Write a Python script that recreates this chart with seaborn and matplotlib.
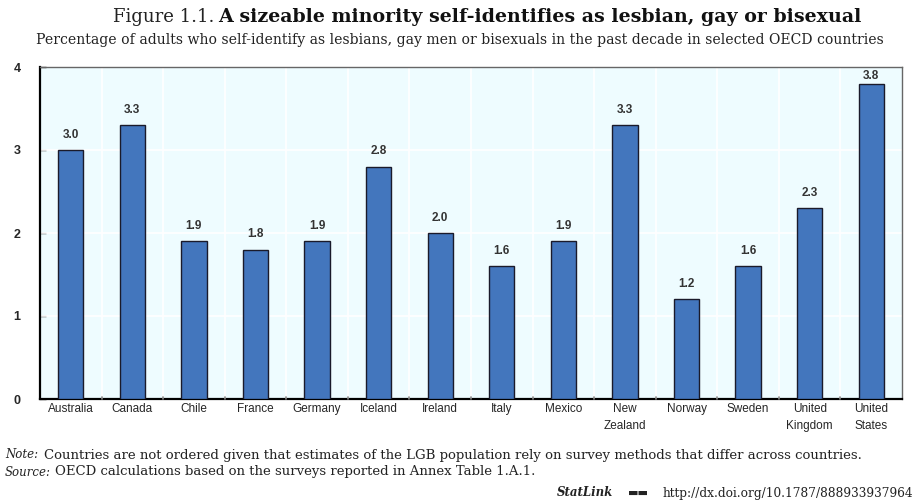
import pandas as pd
import seaborn as sns
import matplotlib.pyplot as plt

# datos
paises = ['Australia', 'Canada', 'Chile', 'France', 'Germany', 'Iceland', 'Ireland', 'Italy',
          'Mexico', 'New\nZealand', 'Norway', 'Sweden', 'United\nKingdom', 'United\nStates']
valores = [3.0, 3.3, 1.9, 1.8, 1.9, 2.8, 2.0, 1.6, 1.9, 3.3, 1.2, 1.6, 2.3, 3.8]
etiquetas_y = [0, 1, 2, 3, 4]

df = pd.DataFrame({'Pais': paises, 'Porcentaje': valores})

sns.set_style('white')
plt.rcParams['font.family'] = ['Liberation Sans Narrow', 'Liberation Sans', 'DejaVu Sans']

fig = plt.figure(figsize=(9.18, 5.01), dpi=100)
ax = fig.add_axes([40 / 918, 1 - 399 / 501, 862 / 918, 332 / 501])
ax.set_facecolor('#eefcff')

sns.barplot(data=df, x='Pais', y='Porcentaje', color='#4376bd', width=0.41,
            edgecolor='#1a1a2a', linewidth=1.0, saturation=1, ax=ax, zorder=3)

# lineas de cuadricula blancas
for yv in etiquetas_y[1:]:
    ax.axhline(yv, color='white', lw=1.2, zorder=1)
for i in range(len(paises) - 1):
    ax.axvline(i + 0.5, color='white', lw=1.2, zorder=1)

# etiquetas de valor (la mas alta queda pegada a la barra para no salirse)
for i, v in enumerate(valores):
    ax.text(i, min(v + 0.11, 3.82), f'{v:.1f}', ha='center', va='bottom', fontsize=8.5,
            fontweight='bold', color='#333333', zorder=4)

ax.set_ylim(0, 4)
ax.set_xlim(-0.5, len(paises) - 0.5)
ax.set_yticks(etiquetas_y)
ax.set_yticklabels([str(t) for t in etiquetas_y], fontsize=9, fontweight='bold')
ax.set_xticks(range(len(paises)))
ax.set_xticklabels(paises, fontsize=8.5, linespacing=1.5)
ax.tick_params(axis='x', length=0, pad=3)
ax.tick_params(axis='y', direction='in', length=4, width=1, pad=14, left=True)
for i in range(len(paises) - 1):
    ax.plot([i + 0.5, i + 0.5], [0, 0.03], color='#888888', lw=1.2, zorder=4, clip_on=False)
ax.set_xlabel('')
ax.set_ylabel('')

for lado in ['left', 'bottom']:
    ax.spines[lado].set_color('black')
    ax.spines[lado].set_linewidth(1.6)
for lado in ['top', 'right']:
    ax.spines[lado].set_color('#666666')
    ax.spines[lado].set_linewidth(1.0)

# titulo y subtitulo
serif = ['DejaVu Serif']
fig.text(113 / 918, 1 - 17 / 501, 'Figure 1.1.', ha='left', va='center', fontsize=13,
         family=serif, color='#222222')
fig.text(218 / 918, 1 - 17 / 501, 'A sizeable minority self-identifies as lesbian, gay or bisexual',
         ha='left', va='center', fontsize=13.7, family=serif, fontweight='bold', color='#111111')
fig.text(460 / 918, 1 - 40 / 501,
         'Percentage of adults who self-identify as lesbians, gay men or bisexuals in the past decade in selected OECD countries',
         ha='center', va='center', fontsize=10.1, family=serif, color='#222222')

# notas
fig.text(5 / 918, 1 - 455 / 501, 'Note:', ha='left', va='center', fontsize=8.5, family=serif,
         style='italic', color='#222222')
fig.text(44 / 918, 1 - 455 / 501,
         'Countries are not ordered given that estimates of the LGB population rely on survey methods that differ across countries.',
         ha='left', va='center', fontsize=9.55, family=serif, color='#222222')
fig.text(5 / 918, 1 - 472 / 501, 'Source:', ha='left', va='center', fontsize=8.5, family=serif,
         style='italic', color='#222222')
fig.text(55 / 918, 1 - 472 / 501, 'OECD calculations based on the surveys reported in Annex Table 1.A.1.',
         ha='left', va='center', fontsize=9.55, family=serif, color='#222222')
fig.text(913 / 918, 1 - 493 / 501, 'http://dx.doi.org/10.1787/888933937964', ha='right',
         va='center', fontsize=8.7, family=serif, color='#222222')
fig.text(613 / 918, 1 - 493 / 501, 'StatLink', ha='right', va='center', fontsize=8.5,
         family=serif, style='italic', fontweight='bold', color='#222222')
fig.text(638 / 918, 1 - 493 / 501, '▬▬', ha='center', va='center', fontsize=8,
         family=['DejaVu Sans'], color='#222222')

fig.savefig('out.png', dpi=100)
